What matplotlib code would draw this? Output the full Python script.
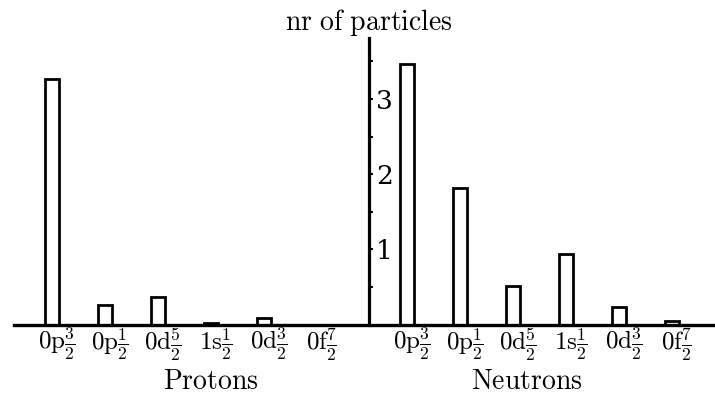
import numpy as np
import matplotlib.pyplot as plt
import matplotlib.transforms as mtransforms

plt.rcParams['mathtext.fontset'] = 'cm'
plt.rcParams['font.family'] = 'serif'

# orbitals and occupation numbers
shells = ['0p', '0p', '0d', '1s', '0d', '0f']
fracs = [r'\frac{3}{2}', r'\frac{1}{2}', r'\frac{5}{2}',
         r'\frac{1}{2}', r'\frac{3}{2}', r'\frac{7}{2}']
protons = [3.27, 0.26, 0.37, 0.015, 0.08, 0.0]
neutrons = [3.46, 1.81, 0.51, 0.94, 0.23, 0.05]
y_major = [1, 2, 3]
y_minor = [0.5, 1.5, 2.5, 3.5]

fig = plt.figure(figsize=(7.15, 3.99), dpi=100)
ax = fig.add_axes([14 / 715, 74.5 / 399, 701 / 715, 286.5 / 399])

n = len(shells)
x_prot = np.arange(n)
x_neut = np.arange(n) + 6.70
spine_x = 5.90
bar_shift = -0.085
width = 0.264

ax.bar(x_prot + bar_shift, protons, width, color='white', edgecolor='black', linewidth=2.0)
ax.bar(x_neut + bar_shift, neutrons, width, color='white', edgecolor='black', linewidth=2.0)

ax.set_xlim(-0.796, 12.43)
ax.set_ylim(0, 3.81)

for side in ['top', 'right']:
    ax.spines[side].set_visible(False)
ax.spines['left'].set_position(('data', spine_x))
ax.spines['left'].set_linewidth(2.3)
ax.spines['bottom'].set_linewidth(2.4)

labels = [r'$\mathrm{%s}%s$' % (s, f) for s, f in zip(shells, fracs)]
ax.set_xticks(np.concatenate([x_prot, x_neut]))
ax.set_xticklabels(labels * 2)
ax.tick_params(axis='x', length=0, pad=1, labelsize=18)

ax.set_yticks(y_major)
ax.set_yticks(y_minor, minor=True)
ax.set_yticklabels([str(v) for v in y_major])
ax.tick_params(axis='y', which='both', direction='in', length=3, width=1.5)
ax.tick_params(axis='y', which='major', pad=-5, labelsize=19)
for lab in ax.get_yticklabels():
    lab.set_horizontalalignment('left')

blend = mtransforms.blended_transform_factory(ax.transData, fig.transFigure)
ax.text(2.91, 10 / 399, r'$\mathrm{Protons}$', transform=blend,
        ha='center', va='baseline', fontsize=20)
ax.text(8.88, 10 / 399, r'$\mathrm{Neutrons}$', transform=blend,
        ha='center', va='baseline', fontsize=20)

fig.text(369 / 715, (399 - 30) / 399, r'$\mathrm{nr\ of\ particles}$',
         ha='center', va='baseline', fontsize=20)

fig.savefig('out.png', dpi=100)
